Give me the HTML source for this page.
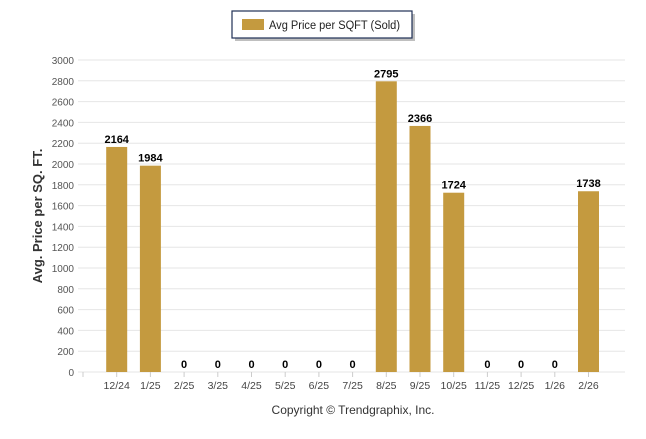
<!DOCTYPE html>
<html><head><meta charset="utf-8"><style>
body{margin:0;background:#fff;font-family:"Liberation Sans",sans-serif}
</style></head><body>
<svg width="646" height="434" xmlns="http://www.w3.org/2000/svg">
<g>
<rect x="235" y="14" width="180" height="27" fill="#000" opacity="0.25"/>
<rect x="232" y="11" width="180" height="27" fill="#fff" stroke="#1f2f55" stroke-width="1.2"/>
<rect x="242" y="19" width="22" height="11" fill="#c49a3f"/>
<text x="269" y="29" font-size="11.5" fill="#222" textLength="131" lengthAdjust="spacingAndGlyphs">Avg Price per SQFT (Sold)</text>
</g>
<g id="grid"></g><g id="bars"></g>
<text transform="translate(42,216) rotate(-90)" text-anchor="middle" font-size="13" font-weight="bold" fill="#333">Avg. Price per SQ. FT.</text>
<text x="353" y="414" text-anchor="middle" font-size="12" fill="#333">Copyright © Trendgraphix, Inc.</text>
</svg>
<script>
const categories=["12/24","1/25","2/25","3/25","4/25","5/25","6/25","7/25","8/25","9/25","10/25","11/25","12/25","1/26","2/26"];
const values=[2164,1984,0,0,0,0,0,0,2795,2366,1724,0,0,0,1738];
const yTicks=[0,200,400,600,800,1000,1200,1400,1600,1800,2000,2200,2400,2600,2800,3000];
const NS="http://www.w3.org/2000/svg";
const x0=83,step=33.7,yBase=372,yTop=60,yMax=3000;
const y=v=>yBase-(v/yMax)*(yBase-yTop);
const xc=i=>x0+step*(i+1);
function mk(t,a,p){const e=document.createElementNS(NS,t);for(const k in a)e.setAttribute(k,a[k]);p.appendChild(e);return e;}
const g=document.getElementById('grid'),b=document.getElementById('bars');
yTicks.forEach(v=>{
 const l=mk('line',{x1:78,x2:625,y1:y(v),y2:y(v),stroke:'#e6e6e6'},g);
 
 
 const t=mk('text',{x:74,y:y(v)+4,'text-anchor':'end','font-size':10,fill:'#555'},g);
 t.textContent=v;
 
 
});
mk('line',{x1:83,x2:83,y1:372,y2:377,stroke:'#ccc'},g);
categories.forEach((c,i)=>{
 const cx=xc(i);
 mk('line',{x1:cx,x2:cx,y1:372,y2:377,stroke:'#ccc'},g);
 const t=mk('text',{x:cx,y:389,'text-anchor':'middle','font-size':10.5,fill:'#444'},g);
 t.textContent=c;
 
 
 const v=values[i];
 const r=mk('rect',{x:cx-10.5,y:y(v),width:21,height:yBase-y(v),fill:'#c49a3f'},b);
 
 
 const lb=mk('text',{x:cx,y:y(v)-4,'text-anchor':'middle','font-size':11,'font-weight':'bold',fill:'#000'},b);
 lb.textContent=v;
 
 
});
</script>
</body></html>
